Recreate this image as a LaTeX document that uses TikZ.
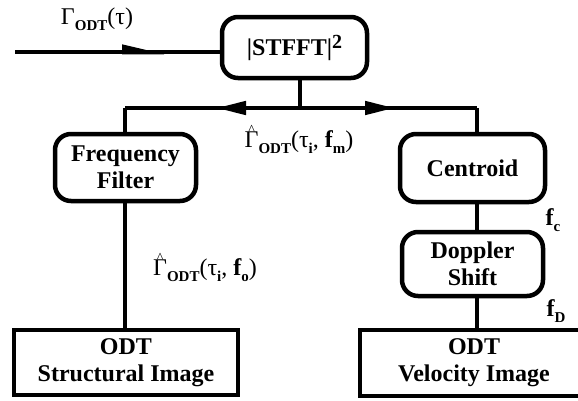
\documentclass[tikz,border=0pt]{standalone}
\usepackage{fontspec}
\setmainfont{Liberation Serif}
\usetikzlibrary{arrows.meta}
\newcommand{\sbs}[1]{\raisebox{-0.25em}{\fontsize{15}{15}\selectfont\bfseries #1}}
\newcommand{\hatG}{\setbox0\hbox{Γ}\rlap{\hbox to\wd0{\hss\raisebox{13pt}{\fontsize{14}{14}\selectfont\textasciicircum}\hss}}Γ}
\begin{document}
\begin{tikzpicture}[x=1pt,y=-1pt,
  rbox/.style={draw, line width=4.5pt, rounded corners=16pt, font=\fontsize{24}{27}\selectfont\bfseries, align=center, inner sep=0pt},
  sbox/.style={draw, line width=4.5pt, font=\fontsize{24}{27}\selectfont\bfseries, align=center, inner sep=0pt},
  conn/.style={line width=4.5pt},
  lab/.style={font=\fontsize{24}{26}\selectfont, inner sep=0pt}]
\useasboundingbox (0,0) rectangle (578,400);
\clip (0,0) rectangle (578,400);
% boxes
\node[rbox, minimum width=145pt, minimum height=61pt] (stfft) at (294.5,47.5) {|STFFT|\raisebox{7pt}{\fontsize{20}{20}\selectfont 2}};
\node[rbox, minimum width=141pt, minimum height=67pt] (ff) at (125.5,167.5) {Frequency\\Filter};
\node[rbox, minimum width=145pt, minimum height=68pt] (cen) at (472.5,168) {Centroid};
\node[rbox, minimum width=141pt, minimum height=64pt] (dop) at (472.5,264) {Doppler\\Shift};
\node[sbox, minimum width=224pt, minimum height=65pt] (str) at (126,362.5) {ODT\\Structural Image};
\node[sbox, minimum width=228pt, minimum height=66pt] (vel) at (474,363) {ODT\\Velocity Image};
% coordinates
\coordinate (in) at (15,52);
\coordinate (ia) at (167,52);
\coordinate (j) at (300,108);
\coordinate (la) at (216,108);
\coordinate (ra) at (395,108);
\coordinate (lc) at (125,108);
\coordinate (rc) at (477,108);
% connectors
\draw[conn] (in) -- (stfft.west |- in);
\draw[conn,-{Triangle[length=34pt,width=14pt,left]}] (in) -- (ia);
\draw[conn] (stfft.south -| j) -- (j);
\draw[conn] (lc) -- (rc);
\draw[conn,-{Triangle[length=30pt,width=13pt]}] (j) -- (la);
\draw[conn,-{Triangle[length=30pt,width=13pt]}] (j) -- (ra);
\draw[conn] (lc) -- (ff.north -| lc);
\draw[conn] (rc) -- (cen.north -| rc);
\draw[conn] (ff.south -| lc) -- (str.north -| lc);
\draw[conn] (cen.south -| rc) -- (dop.north -| rc);
\draw[conn] (dop.south -| rc) -- (vel.north -| rc);
% labels
\node[lab] (lin) at (97,19) {Γ\sbs{ODT}(τ)};
\node[lab] (lm) at (299,139) {\hatG\sbs{ODT}(τ\sbs{i}, {\bfseries f}\sbs{m})};
\node[lab] (lo) at (205,267) {\hatG\sbs{ODT}(τ\sbs{i}, {\bfseries f}\sbs{o})};
\node[lab] (fcl) at (553,220) {{\bfseries f}\sbs{c}};
\node[lab] (fdl) at (556,311) {{\bfseries f}\sbs{D}};
\end{tikzpicture}
\end{document}
